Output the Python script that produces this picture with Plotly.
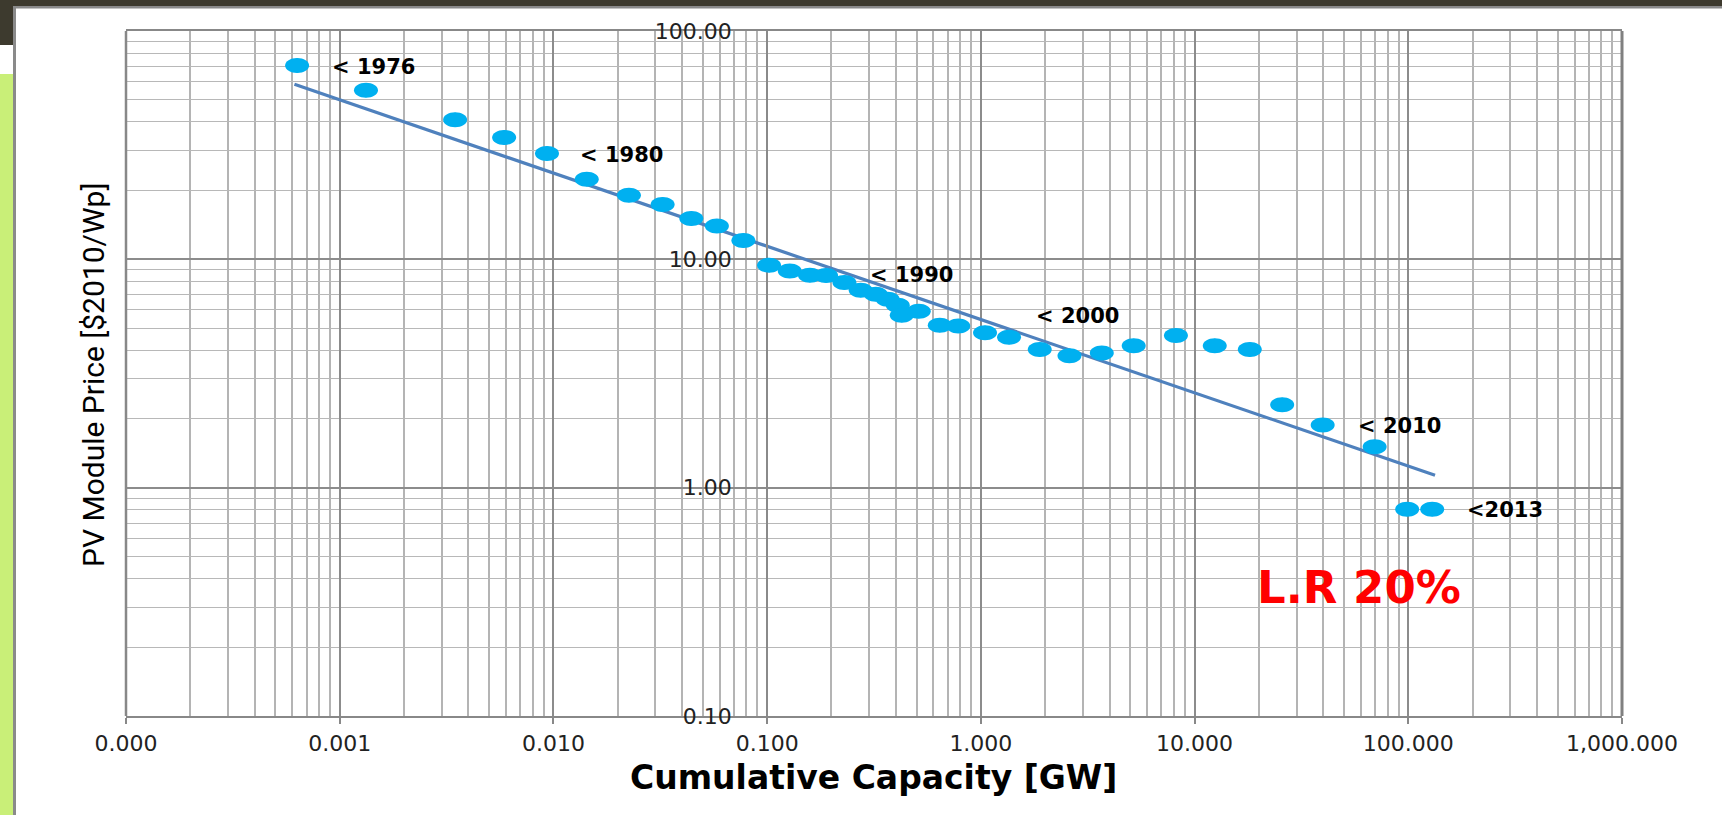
import math
import plotly.graph_objects as go

# ---------------- data ----------------
capacity_gw = [0.000632, 0.001327, 0.003467, 0.00588, 0.00933, 0.01432, 0.02256, 0.03243,
               0.04418, 0.0582, 0.0774, 0.1021, 0.1276, 0.1586, 0.1887, 0.2299, 0.274,
               0.3224, 0.3666, 0.4085, 0.4264, 0.5122, 0.6424, 0.784, 1.046, 1.355, 1.886,
               2.598, 3.68, 5.19, 8.18, 12.43, 18.13, 25.7, 39.76, 69.6, 98.8, 129.4]
price_usd_wp = [70.6, 55.0, 40.9, 34.2, 29.1, 22.4, 19.1, 17.4, 15.1, 14.0, 12.1, 9.42,
                8.90, 8.52, 8.50, 7.91, 7.32, 7.03, 6.69, 6.30, 5.69, 5.93, 5.15, 5.11,
                4.77, 4.56, 4.03, 3.78, 3.89, 4.18, 4.64, 4.18, 4.03, 2.31, 1.88, 1.51,
                0.805, 0.805]

trend_capacity = [0.000614, 133.4]
trend_price = [58.4, 1.134]

label_text = ["< 1976", "< 1980", "< 1990", "< 2000", "< 2010", "<2013"]
label_capacity = [0.000898, 0.01309, 0.2970, 1.770, 56.66, 185.2]
label_price = [69.6, 28.57, 8.52, 5.64, 1.865, 0.797]

x_tick_vals = [0.0001, 0.001, 0.01, 0.1, 1, 10, 100, 1000]
x_tick_text = ["0.000", "0.001", "0.010", "0.100", "1.000", "10.000", "100.000", "1,000.000"]
y_tick_vals = [0.1, 1, 10, 100]
y_tick_text = ["0.10", "1.00", "10.00", "100.00"]

x_title = "Cumulative Capacity [GW]"
y_title = "PV Module Price [$2010/Wp]"
lr_text = "L.R 20%"

# ---------------- figure geometry ----------------
W, H = 1722, 815
ML, MR, MT, MB = 126, 100, 31, 99
PW, PH = W - ML - MR, H - MT - MB


def px(xp):
    return (xp - ML) / PW


def py(yp):
    return (H - MB - yp) / PH


minor_x = [m * 10 ** e for e in range(-4, 3) for m in range(2, 10)]
minor_y = [m * 10 ** e for e in range(-1, 2) for m in range(2, 10)]

MARKER = "#00b0f0"
LINE = "#4f81bd"

# pixel-sized ellipse (relative to its data anchor), drawn with bezier curves
RX, RY, K = 12.0, 7.5, 0.5523
ELLIPSE = (f"M{RX},0 C{RX},{K*RY} {K*RX},{RY} 0,{RY} "
           f"C{-K*RX},{RY} {-RX},{K*RY} {-RX},0 "
           f"C{-RX},{-K*RY} {-K*RX},{-RY} 0,{-RY} "
           f"C{K*RX},{-RY} {RX},{-K*RY} {RX},0 Z")

fig = go.Figure()
fig.add_trace(go.Scatter(x=trend_capacity, y=trend_price, mode="lines",
                         line=dict(color=LINE, width=3.2), hoverinfo="skip",
                         showlegend=False))
fig.add_trace(go.Scatter(x=capacity_gw, y=price_usd_wp, mode="markers",
                         marker=dict(color=MARKER, size=14, line=dict(width=0)),
                         showlegend=False))

shapes = []
for cx, cy in zip(capacity_gw, price_usd_wp):
    shapes.append(dict(type="path", xref="x", yref="y", xsizemode="pixel",
                       ysizemode="pixel", xanchor=cx, yanchor=cy, path=ELLIPSE,
                       fillcolor=MARKER, line=dict(width=0), layer="above"))

# plot frame
shapes.append(dict(type="line", xref="paper", yref="paper", x0=0, x1=0, y0=0, y1=1,
                   line=dict(color="#888888", width=2.5)))
shapes.append(dict(type="line", xref="paper", yref="paper", x0=1, x1=1, y0=0, y1=1,
                   line=dict(color="#808080", width=3)))

# slide decorations
DARK = "#3d3a2e"
shapes += [
    dict(type="rect", xref="paper", yref="paper", x0=px(0), x1=px(W), y0=py(0), y1=py(6),
         fillcolor=DARK, line=dict(width=0), layer="below"),
    dict(type="rect", xref="paper", yref="paper", x0=px(0), x1=px(13), y0=py(0), y1=py(45),
         fillcolor=DARK, line=dict(width=0), layer="below"),
    dict(type="rect", xref="paper", yref="paper", x0=px(13), x1=px(W), y0=py(6), y1=py(8.5),
         fillcolor="#8a8a8a", line=dict(width=0), layer="below"),
    dict(type="rect", xref="paper", yref="paper", x0=px(0), x1=px(13), y0=py(74), y1=py(H),
         fillcolor="#c9ef78", line=dict(width=0), layer="below"),
    dict(type="rect", xref="paper", yref="paper", x0=px(13), x1=px(16), y0=py(6), y1=py(H),
         fillcolor="#8a8a8a", line=dict(width=0), layer="below"),
]

annotations = []
for t, cx, cy in zip(label_text, label_capacity, label_price):
    annotations.append(dict(x=math.log10(cx), y=math.log10(cy), xref="x", yref="y",
                            text=t, showarrow=False, xanchor="left", yanchor="middle",
                            font=dict(family="DejaVu Sans", size=21, color="#000000",
                                      weight="bold")))
annotations.append(dict(x=px(1359), y=py(587), xref="paper", yref="paper", text=lr_text,
                        showarrow=False, xanchor="center", yanchor="middle",
                        font=dict(family="DejaVu Sans", size=45, color="#ff0000",
                                  weight="bold")))
annotations.append(dict(x=px(873), y=py(777), xref="paper", yref="paper", text=x_title,
                        showarrow=False, xanchor="center", yanchor="middle",
                        font=dict(family="DejaVu Sans", size=33, color="#000000",
                                  weight="bold")))
annotations.append(dict(x=px(93), y=py(375), xref="paper", yref="paper", text=y_title,
                        showarrow=False, xanchor="center", yanchor="middle", textangle=-90,
                        font=dict(family="Roboto, sans-serif", size=30, color="#000000")))

tick_font = dict(family="DejaVu Sans", size=22, color="#222222")

fig.update_layout(
    width=W, height=H,
    margin=dict(l=ML, r=MR, t=MT, b=MB, pad=0),
    paper_bgcolor="#ffffff", plot_bgcolor="#ffffff",
    showlegend=False,
    shapes=shapes,
    annotations=annotations,
    xaxis=dict(type="log", range=[-4, 3], tickmode="array", tickvals=x_tick_vals,
               ticktext=x_tick_text, ticks="outside", ticklen=6, tickcolor="#888888",
               tickwidth=1.5, tickfont=tick_font, ticklabelstandoff=1,
               showgrid=True, gridcolor="#8c8c8c", gridwidth=2,
               minor=dict(tickmode="array", tickvals=minor_x, showgrid=True,
                          gridcolor="#b4b4b4", gridwidth=2, ticks=""),
               showline=True, linecolor="#888888", linewidth=2, mirror=True,
               zeroline=False, automargin=False, fixedrange=True),
    yaxis=dict(type="log", range=[-1, 2], anchor="free", position=3 / 7,
               tickmode="array", tickvals=y_tick_vals, ticktext=y_tick_text,
               ticks="", tickfont=tick_font, ticklabelstandoff=30,
               showgrid=True, gridcolor="#8c8c8c", gridwidth=1.5,
               minor=dict(tickmode="array", tickvals=minor_y, showgrid=True,
                          gridcolor="#b8b8b8", gridwidth=1.3, ticks=""),
               showline=True, linecolor="#8a8a8a", linewidth=2,
               zeroline=False, automargin=False, fixedrange=True),
)

fig.write_html("out.html",
               config={"displayModeBar": False},
               post_script="document.body.style.margin='0';"
                           "document.body.style.overflow='hidden';")
